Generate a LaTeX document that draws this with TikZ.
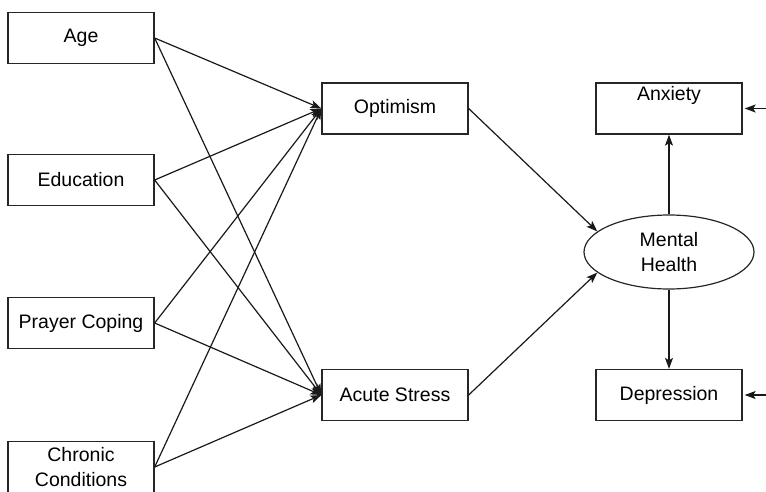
\documentclass[tikz,border=0pt]{standalone}
\usepackage{fontspec}
\setmainfont{Liberation Sans}
\usetikzlibrary{arrows.meta,shapes.geometric}
\begin{document}
\begin{tikzpicture}[x=1pt,y=-1pt,
  box/.style={draw=black!85,line width=1.3pt,minimum width=146pt,minimum height=51pt,inner sep=2pt,align=center,font=\fontsize{19.5}{25}\selectfont},
  topbox/.style={box,text height=14pt,text depth=31pt},
  ell/.style={draw=black!85,line width=1.2pt,ellipse,minimum width=170pt,minimum height=74pt,inner sep=0pt,align=center,font=\fontsize{19.5}{25}\selectfont},
  arr/.style={draw=black!90,line width=1.2pt,-{Stealth[length=11pt,width=8pt,inset=2.5pt]}}]
\useasboundingbox (0,0) rectangle (766,491);
\node[box] (age) at (81,38) {Age};
\node[box] (edu) at (81,180) {Education};
\node[box] (pra) at (81,323) {Prayer Coping};
\node[box] (chr) at (81,467) {Chronic\\Conditions};
\node[box] (opt) at (395,108.5) {Optimism};
\node[box] (acu) at (395,395) {Acute Stress};
\node[ell] (mh) at (669,252) {Mental\\Health};
\node[topbox] (anx) at (669,108.5) {Anxiety};
\node[box] (dep) at (669,395) {Depression};
\coordinate (ea) at (766,108.5);
\coordinate (ed) at (766,395);
\foreach \s in {age,edu,pra,chr}{
  \draw[arr] (\s.east) -- (opt.west);
  \draw[arr] (\s.east) -- (acu.west);
}
\draw[arr] (opt.east) -- (mh.164);
\draw[arr] (acu.east) -- (mh.196);
\draw[arr] (mh.north) -- (anx.south);
\draw[arr] (mh.south) -- (dep.north);
\draw[arr,shorten >=2pt] (ea) -- (anx.east);
\draw[arr,shorten >=2pt] (ed) -- (dep.east);
\end{tikzpicture}
\end{document}
